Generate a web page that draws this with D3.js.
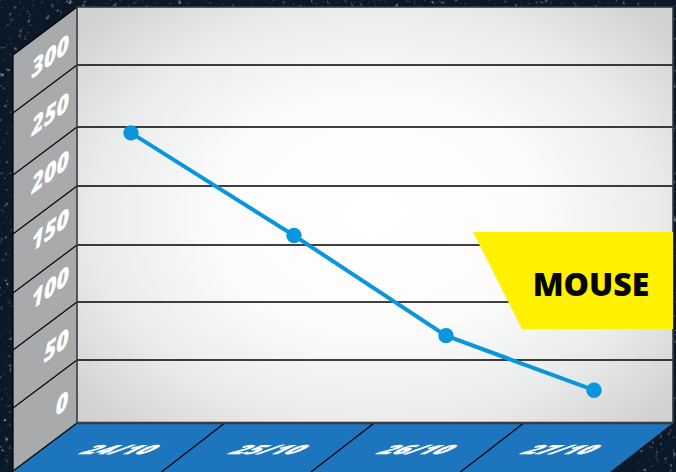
<!DOCTYPE html>
<html><head><meta charset="utf-8">
<script src="https://cdn.jsdelivr.net/npm/d3@7"></script>
<style>html,body{margin:0;padding:0;background:#0b1828;overflow:hidden}svg{display:block}text{font-family:"Open Sans",sans-serif}</style>
</head><body><svg id="c" width="676" height="472"></svg>
<script>
const categories = ["24/10","25/10","26/10","27/10"];
const values = [245,158,71,26];
const yTicks = [0,50,100,150,200,250,300];
const legendLabel = "MOUSE";

const W=676,H=472;
const L=77,R=673,T=7,B=423,wallX=13,dx=L-wallX,slope=0.75;
const svg=d3.select("#c");
const y=d3.scaleLinear().domain([0,50,100,150,200,250,300,350]).range([423,360,302,245,186,127,65,7]);
const yLabel=d3.scaleLinear().domain([0,300]).range([403,56]);
const xPoint=d3.scaleOrdinal(categories,[131,294,446,594]);
const xLabel=d3.scaleOrdinal(categories,[118,267,415,559]);
const xBand=d3.scaleBand(categories,[74,672]);

const defs=svg.append("defs");
const rg=defs.append("radialGradient").attr("id","wall").attr("gradientUnits","userSpaceOnUse")
  .attr("cx",0).attr("cy",0).attr("r",1)
  .attr("gradientTransform",`translate(375,215) scale(390,290)`);
[[0,"#ffffff"],[0.4,"#fcfcfc"],[0.72,"#eaebeb"],[1,"#d0d1d3"]].forEach(s=>rg.append("stop").attr("offset",s[0]).attr("stop-color",s[1]));
const f=defs.append("filter").attr("id","spk").attr("x",0).attr("y",0).attr("width","100%").attr("height","100%");
f.append("feTurbulence").attr("type","fractalNoise").attr("baseFrequency",0.22).attr("numOctaves",3).attr("seed",4);
f.append("feColorMatrix").attr("values","0 0 0 0 0.7  0 0 0 0 0.8  0 0 0 0 0.9  1.8 1.8 0 0 -2.15");

svg.append("rect").attr("width",W).attr("height",H).attr("fill","#0b1828");
svg.append("rect").attr("width",W).attr("height",H).attr("filter","url(#spk)").attr("opacity",0.8);

const line2=d3.line();
svg.append("path").attr("d",line2([[L,T],[wallX,T+dx*slope],[wallX,H],[L,B]])+"Z").attr("fill","#a9aaac");
svg.append("path").attr("d",line2([[L,T],[wallX,T+dx*slope],[wallX,H+2]])).attr("fill","none").attr("stroke","#000").attr("stroke-width",1.2);
svg.append("path").attr("d",line2([[L,B],[R,B],[R-63,H],[L-64,H]])+"Z").attr("fill","#1d75be");
svg.append("rect").attr("x",L).attr("y",T).attr("width",R-L).attr("height",B-T).attr("fill","url(#wall)");

const gridVals=yTicks.slice(1);
svg.selectAll(".g").data(gridVals).join("line").attr("x1",L).attr("x2",R).attr("y1",d=>y(d)).attr("y2",d=>y(d)).attr("stroke","#000").attr("stroke-width",1.3);
svg.selectAll(".d").data(yTicks).join("line").attr("x1",L).attr("y1",d=>y(d)).attr("x2",wallX).attr("y2",d=>y(d)+dx*slope).attr("stroke","#000").attr("stroke-width",1.2);

svg.append("rect").attr("x",L).attr("y",T).attr("width",R-L).attr("height",B-T).attr("fill","none").attr("stroke","#3a3b3d").attr("stroke-width",1.6);
svg.append("line").attr("x1",L).attr("x2",R).attr("y1",B).attr("y2",B).attr("stroke","#3a3b3d").attr("stroke-width",2.4);

svg.selectAll(".f").data(categories.slice(1)).join("line")
  .attr("x1",d=>xBand(d)).attr("y1",B+1).attr("x2",d=>xBand(d)-62).attr("y2",H).attr("stroke","#000").attr("stroke-width",1.2);

svg.selectAll(".yl").data(yTicks).join("text")
  .attr("transform",d=>`translate(${68-5.9*String(d).length},${yLabel(d)+9}) matrix(0.86,-0.64,0,1,0,0)`)
  .attr("text-anchor","middle")
  .attr("font-size",25).attr("font-weight",800).attr("font-style","italic").attr("fill","#fff")
  .text(d=>d);

svg.selectAll(".xl").data(categories).join("text")
  .attr("transform",d=>`translate(${xLabel(d)-5},454) matrix(1.02,0,-0.9,0.52,0,0)`)
  .attr("text-anchor","middle").attr("font-size",24).attr("font-weight",800).attr("font-style","italic").attr("fill","#fff")
  .attr("stroke","#fff").attr("stroke-width",0.5)
  .text(d=>d);

svg.append("path").attr("d",line2([[473,232],[R,232],[R,329],[522,329]])+"Z").attr("fill","#fff100");
svg.append("text").attr("x",591).attr("y",296).attr("text-anchor","middle").attr("font-size",32).attr("font-weight",800).attr("fill","#050505").text(legendLabel);

const pts=categories.map((c,i)=>[xPoint(c),y(values[i])]);
svg.append("path").attr("d",line2(pts)).attr("fill","none").attr("stroke","#0a96dc").attr("stroke-width",4);
svg.selectAll(".p").data(pts).join("circle").attr("cx",d=>d[0]).attr("cy",d=>d[1]).attr("r",7.7).attr("fill","#0a96dc");
</script></body></html>
